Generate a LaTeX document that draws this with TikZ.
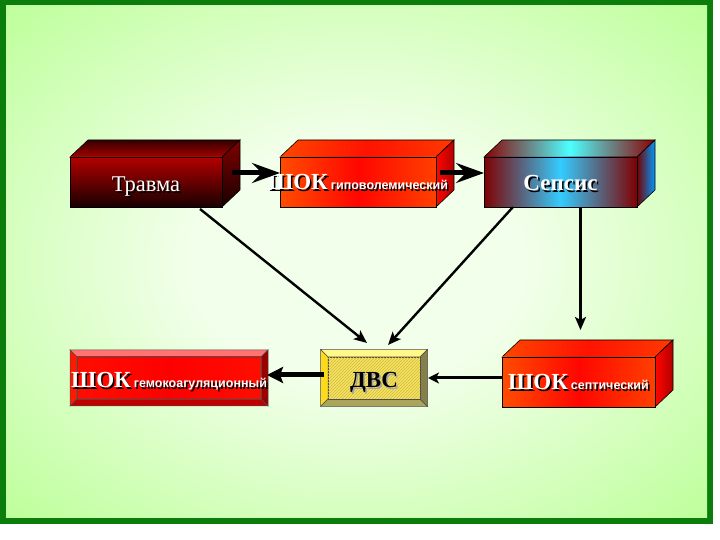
\documentclass[tikz,border=0pt]{standalone}
\usepackage{fontspec}
\setmainfont{Liberation Serif}
\newfontfamily\smallsans{Liberation Sans}
\usetikzlibrary{arrows.meta,backgrounds,patterns}

\definecolor{framegreen}{HTML}{0B7D0B}
\definecolor{bglight}{HTML}{F2FFEA}
\definecolor{bgdark}{HTML}{98FF62}
\definecolor{dicyellow}{HTML}{F2E466}
\definecolor{dichatch}{HTML}{D9B838}

\pgfdeclareradialshading{glow}{\pgfpoint{0bp}{0bp}}{color(0bp)=(bglight); color(12bp)=(bglight); color(52bp)=(bgdark); color(100bp)=(bgdark)}

% text with a drop shadow
\newcommand\shadowed[2][black]{\leavevmode\rlap{\hspace{1.6pt}\raisebox{-1.6pt}{\color{#1}#2}}#2}
\newcommand\shoklabel[1]{\makebox[0pt]{\shadowed{\fontsize{23}{26}\selectfont\bfseries ШОК}\hspace{3pt}\shadowed{\smallsans\fontsize{12.5}{14}\selectfont\bfseries #1}}}
% baseline placed below the node centre
\newcommand\lowered[2]{\raisebox{#1}[0pt][0pt]{#2}}

% top and side faces of a box drawn behind the front node
\newcommand\cubedepth[3]{%
  \path[#2, draw=black, line width=0.6pt] (#1.north west) -- ++(18,17) -- ([shift={(18,17)}]#1.north east) -- (#1.north east) -- cycle;
  \path[#3, draw=black, line width=0.6pt] (#1.north east) -- ++(18,17) -- ([shift={(18,17)}]#1.south east) -- (#1.south east) -- cycle;
}
% bevelled frame round an inner node
\newcommand\bevelframe[6]{%
  \fill[#3, draw=black!70, line width=0.5pt] ([shift={(-#2,#2)}]#1.north west) -- ([shift={(#2,#2)}]#1.north east) -- (#1.north east) -- (#1.north west) -- cycle;
  \fill[#4, draw=black!70, line width=0.5pt] ([shift={(-#2,#2)}]#1.north west) -- (#1.north west) -- (#1.south west) -- ([shift={(-#2,-#2)}]#1.south west) -- cycle;
  \fill[#5, draw=black!70, line width=0.5pt] ([shift={(-#2,-#2)}]#1.south west) -- (#1.south west) -- (#1.south east) -- ([shift={(#2,-#2)}]#1.south east) -- cycle;
  \fill[#6, draw=black!70, line width=0.5pt] ([shift={(#2,#2)}]#1.north east) -- (#1.north east) -- (#1.south east) -- ([shift={(#2,-#2)}]#1.south east) -- cycle;
}

\tikzset{
  frontface/.style={draw=black, line width=0.6pt, minimum height=50pt, inner sep=0pt, outer sep=0pt, text=white},
  traumaface/.style={frontface, top color=red!70!black, bottom color=black!90!red},
  shockface/.style={frontface, left color=orange!60!red, right color=orange!50!red, middle color=red!95!orange},
  sepsisface/.style={frontface, left color=red!50!black, right color=red!50!black, middle color=cyan!75!blue!80!white},
  innerface/.style={draw=black!70, line width=0.5pt, minimum height=42pt, inner sep=0pt, outer sep=0pt},
  heavyarrow/.style={line width=5pt, -{Stealth[length=28pt, width=20pt, inset=10pt]}},
  shortheavy/.style={line width=5pt, -{Stealth[length=16pt, width=16pt, inset=3pt]}},
  thinarrow/.style={line width=2.4pt, -{Stealth[length=13pt, width=11pt, inset=3pt]}},
  midarrow/.style={line width=3pt, -{Stealth[length=11pt, width=11pt, inset=3pt]}}
}

\begin{document}
\begin{tikzpicture}[x=1pt, y=1pt]
  \useasboundingbox (0,0) rectangle (720,540);
  \begin{scope}[on background layer]
    \fill[white] (0,0) rectangle (720,540);
    \fill[framegreen] (0,16) rectangle (713,540);
    \shade[shading=glow] (6,22) rectangle (707,534);
  \end{scope}

  \node[traumaface, minimum width=152pt] (trauma) at (146,358) {\lowered{-10pt}{\shadowed{\fontsize{22.5}{26}\selectfont Травма}}};
  \node[shockface, minimum width=156pt] (hypo) at (358,358) {\lowered{-8pt}{\shoklabel{гиповолемический}}};
  \node[sepsisface, minimum width=153pt] (sepsis) at (560.5,358) {\lowered{-9pt}{\shadowed{\fontsize{23}{26}\selectfont\bfseries Сепсис}}};
  \node[shockface, minimum width=153pt] (septic) at (578.5,158) {\lowered{-8pt}{\shoklabel{септический}}};
  \node[innerface, minimum width=184pt, text=white, left color=red!90!orange, right color=red!90!orange, middle color=red] (coag) at (169,162) {\lowered{-10pt}{\shoklabel{гемокоагуляционный}}};
  \node[innerface, minimum width=92pt, fill=dicyellow, postaction={pattern=north east lines, pattern color=dichatch}] (dic) at (374,162) {\lowered{-10pt}{\shadowed[black!35]{\fontsize{23}{26}\selectfont\bfseries ДВС}}};

  \begin{scope}[on background layer]
    \cubedepth{trauma}{top color=black!80!red, bottom color=red!65!black}{top color=red!50!black, bottom color=black!90!red}
    \cubedepth{hypo}{left color=orange!55!red, right color=orange!45!red, middle color=red!85!orange}{left color=red!95!orange, right color=red!70!black}
    \cubedepth{sepsis}{left color=red!55!black, right color=red!55!black, middle color=cyan!70!white}{left color=red!45!black, right color=cyan!60!blue}
    \cubedepth{septic}{left color=orange!55!red, right color=orange!45!red, middle color=red!85!orange}{left color=red!95!orange, right color=red!70!black}
    \bevelframe{coag}{7}{red!55!white}{red!80!orange}{red!75!black}{red!60!black}
    \bevelframe{dic}{7.5}{yellow!45!white}{yellow!75!orange!90!white}{yellow!55!black!85!white}{yellow!45!black}
  \end{scope}

  \draw[heavyarrow] ([shift={(10,9)}]trauma.east) -- ([yshift=9]hypo.west);
  \draw[heavyarrow] ([shift={(4,9)}]hypo.east) -- ([yshift=9]sepsis.west);
  \draw[thinarrow] ([shift={(54,-2)}]trauma.south) -- ([shift={(-7,14)}]dic.north);
  \draw[thinarrow] ([shift={(-47.5,0)}]sepsis.south) -- ([shift={(14,12)}]dic.north);
  \draw[thinarrow] ([xshift=20]sepsis.south) -- ([shift={(2,27)}]septic.north);
  \draw[midarrow] ([yshift=4]septic.west) -- ([xshift=8]dic.east);
  \draw[shortheavy] ([shift={(-4,3)}]dic.west) -- ([shift={(6,3)}]coag.east);
\end{tikzpicture}
\end{document}
